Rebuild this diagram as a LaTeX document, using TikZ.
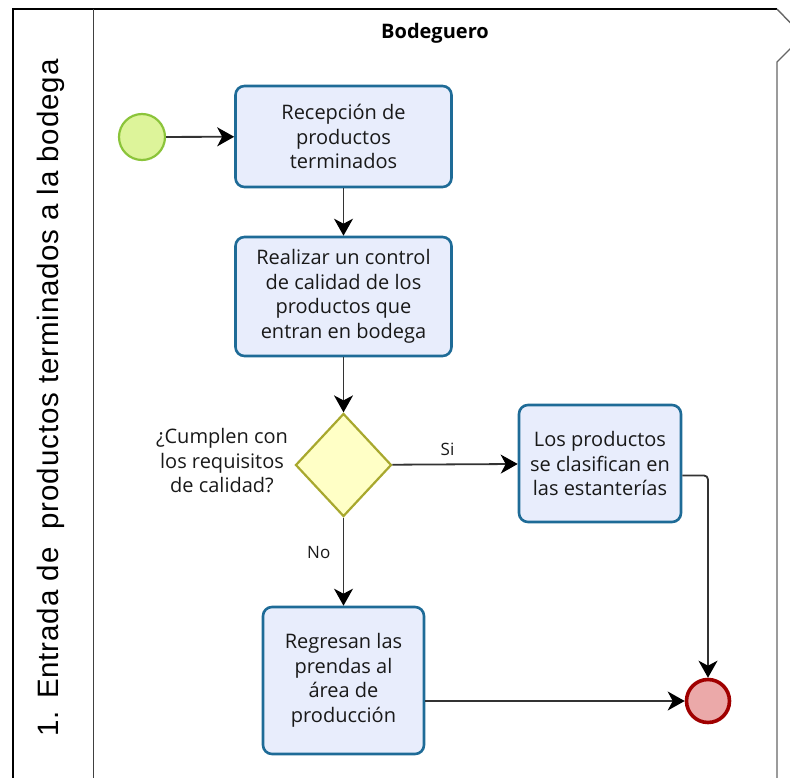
\documentclass[tikz,border=0pt]{standalone}
\usepackage{fontspec}
\setmainfont{Open Sans}
\newfontfamily\lanefont[LetterSpace=3]{Liberation Sans}
\usetikzlibrary{shapes.geometric,arrows.meta,positioning,calc}

\definecolor{taskfill}{HTML}{E8EDFC}
\definecolor{taskline}{HTML}{1E6B97}
\definecolor{startfill}{HTML}{DDF49A}
\definecolor{startline}{HTML}{8BC43A}
\definecolor{endfill}{HTML}{EBA9A9}
\definecolor{endline}{HTML}{A00000}
\definecolor{gatefill}{HTML}{FFFFC6}
\definecolor{gateline}{HTML}{A8A82E}
\definecolor{flowline}{HTML}{333333}

\begin{document}
\begin{tikzpicture}[
    x=1pt, y=-1pt,
    task/.style={rectangle, rounded corners=9pt, draw=taskline, fill=taskfill,
                 line width=2.6pt, minimum width=216pt, inner sep=0pt,
                 align=center, text=black!90, font=\fontsize{20}{24.5}\selectfont},
    startev/.style={circle, draw=startline, fill=startfill, line width=2.2pt,
                    minimum size=46pt, inner sep=0pt},
    endev/.style={circle, draw=endline, fill=endfill, line width=3.6pt,
                  minimum size=43pt, inner sep=0pt},
    gate/.style={diamond, draw=gateline, fill=gatefill, line width=2.2pt,
                 minimum width=96pt, minimum height=103pt, inner sep=0pt},
    arrow/.style={-{Stealth[length=17pt, width=19pt, inset=5pt, black]},
                  draw=flowline, line width=1.8pt},
    note/.style={font=\fontsize{20}{24.5}\selectfont, text=black!90},
    flowlabel/.style={font=\fontsize{17}{20}\selectfont, text=black!90},
    lanetitle/.style={font=\lanefont\fontsize{29.5}{34}\selectfont, rotate=90}
]
\useasboundingbox (0,0) rectangle (790,778);

% Pool and lane
\begin{scope}
\clip (0,0) rectangle (790,778);
\draw[line width=2.4pt] (13,778) -- (13,9) -- (777,9);
\draw[gray!80!black, line width=1.4pt] (777,9) -- (803,36) -- (777,62) -- (777,778);
\draw[black!75, line width=1pt] (93,9) -- (93,778);
\end{scope}
\node[lanetitle] (lane) at (51,398) {1. Entrada de\ \ productos terminados a la bodega};
\node[font=\fontsize{20}{24}\selectfont\bfseries] (pool) at (435,33) {Bodeguero};

% Events and tasks
\node[startev] (start) at (142,137) {};
\node[task, minimum height=101pt] (recep) at (343.5,136.5)
    {Recepción de\\productos\\terminados};
\node[task, minimum height=119pt] (control) at (343.5,296.5)
    {Realizar un control\\de calidad de los\\productos que\\entran en bodega};
\node[gate] (check) at (343.5,465) {};
\node[note, align=center] (question) at (222,461)
    {¿Cumplen con\\los requisitos\\de calidad?};
\node[task, minimum width=162pt, minimum height=117pt] (clasif) at (600,463.5)
    {Los productos\\se clasifican en\\las estanterías};
\node[task, minimum width=161pt, minimum height=147pt] (regreso) at (343.5,680.5)
    {Regresan las\\prendas al\\área de\\producción};
\node[endev] (fin) at (708,701) {};

% Sequence flows
\draw[arrow] (start) -- (recep);
\draw[arrow] (recep) -- (control);
\draw[arrow] (control) -- (check);
\draw[arrow] (check) -- node[flowlabel, pos=0.44, above=4pt] (si) {Si} (clasif);
\draw[arrow] (check) -- node[flowlabel, pos=0.4, left=9pt] (no) {No} (regreso);
\draw[arrow, rounded corners=4pt] ([yshift=-12pt]clasif.east) -| (fin);
\draw[arrow] (regreso.east |- fin) -- (fin);

\end{tikzpicture}
\end{document}
